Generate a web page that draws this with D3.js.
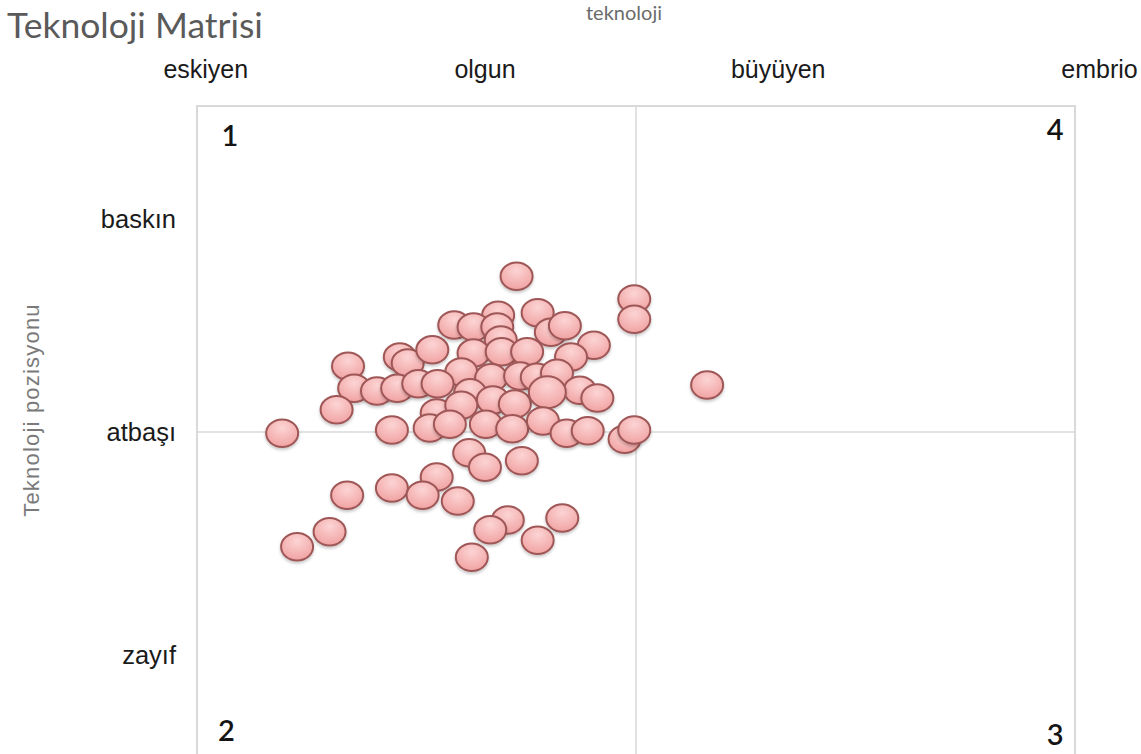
<!DOCTYPE html>
<html>
<head>
<meta charset="utf-8">
<script src="https://cdn.jsdelivr.net/npm/d3@7"></script>
<style>
  body { margin: 0; background: #fff; }
  svg { display: block; }
</style>
</head>
<body>
<svg id="chart" width="1141" height="754"></svg>
<script>
// axis categories
var xCategories = ["eskiyen", "olgun", "büyüyen", "embrio"];
var xCategoryPos = [1, 32.8, 66.2, 102.8];
var yCategories = ["baskın", "atbaşı", "zayıf"];
var yCategoryPos = [82.7, 50, 15.8];
var quadrants = ["1", "4", "2", "3"];

// technologies (x: maturity, y: position)
var techX = [36.4, 49.8, 49.8, 34.3, 38.8, 29.3, 31.5, 34.2, 34.6, 40.3,
             41.9, 45.2, 23.1, 24.0, 26.8, 17.2, 31.5, 34.7, 37.6, 42.6,
             30.1, 33.5, 36.8, 38.7, 41.0, 43.6, 45.6, 17.9, 20.5, 22.8,
             25.2, 27.4, 15.9, 27.3, 31.1, 33.7, 36.2, 30.1, 39.9, 9.7,
             22.2, 26.5, 28.8, 32.9, 35.9, 39.4, 42.1, 44.5, 48.7, 49.8,
             31.0, 32.8, 37.0, 27.3, 17.1, 22.2, 25.7, 29.7, 35.4, 33.4,
             41.6, 38.8, 15.1, 11.4, 31.3, 58.1];
var techY = [73.9, 70.4, 67.3, 67.9, 68.3, 66.4, 66.1, 66.1, 64.1, 65.3,
             66.3, 63.3, 61.5, 60.6, 62.6, 60.1, 62.1, 62.3, 62.3, 61.5,
             59.2, 58.3, 58.6, 58.4, 59.0, 56.4, 55.2, 56.7, 56.3, 56.7,
             57.4, 57.4, 53.4, 52.9, 56.0, 54.9, 54.3, 54.1, 56.1, 49.8,
             50.3, 50.6, 51.2, 51.2, 50.5, 51.7, 49.8, 50.2, 48.9, 50.3,
             46.8, 44.6, 45.6, 43.1, 40.3, 41.4, 40.3, 39.4, 36.5, 35.0,
             36.8, 33.4, 34.7, 32.4, 30.8, 57.2];
var techSize = [1, 1, 1, 1, 1, 1, 1, 1, 1, 1,
                1, 1, 1, 1, 1, 1, 1, 1, 1, 1,
                1, 1, 1, 1, 1, 1, 1, 1, 1, 1,
                1, 1, 1, 1, 1, 1, 1, 1, 1.2, 1,
                1, 1, 1, 1, 1, 1, 1, 1, 1, 1,
                1, 1, 1, 1, 1, 1, 1, 1, 1, 1,
                1, 1, 1, 1, 1, 1];

var svg = d3.select("#chart");

var plotLeft = 197, plotRight = 1075, plotTop = 106, plotBottom = 758;

var x = d3.scaleLinear().domain([0, 100]).range([plotLeft, plotRight]);
var y = d3.scaleLinear().domain([0, 100]).range([plotBottom, plotTop]);
var rx = d3.scaleLinear().domain([1, 1.2]).range([16, 18.5]);

var defs = svg.append("defs");
var grad = defs.append("radialGradient")
    .attr("id", "bubble")
    .attr("cx", "50%").attr("cy", "30%").attr("r", "70%");
grad.append("stop").attr("offset", "0%").attr("stop-color", "#fcd4d4");
grad.append("stop").attr("offset", "100%").attr("stop-color", "#f1a2a2");

var shadow = defs.append("filter").attr("id", "shadow")
    .attr("x", "-30%").attr("y", "-30%").attr("width", "160%").attr("height", "170%");
shadow.append("feDropShadow")
    .attr("dx", 0).attr("dy", 2).attr("stdDeviation", 1.6)
    .attr("flood-color", "#000").attr("flood-opacity", 0.22);

// title
svg.append("text")
    .attr("x", 7).attr("y", 38)
    .style("font-family", "Lato, 'Open Sans', sans-serif")
    .style("font-size", "35.5px")
    .style("fill", "#5a5a5a")
    .text("Teknoloji Matrisi");

svg.append("text")
    .attr("x", 624).attr("y", 20)
    .attr("text-anchor", "middle")
    .style("font-family", "Lato, 'Open Sans', sans-serif")
    .style("font-size", "20px")
    .style("fill", "#6b6b6b")
    .text("teknoloji");

svg.append("text")
    .attr("transform", "translate(39," + ((plotTop + plotBottom) / 2 - 22) + ") rotate(-90)")
    .attr("text-anchor", "middle")
    .style("font-family", "'Liberation Sans', Arial, sans-serif")
    .style("font-size", "22px")
    .style("letter-spacing", "1.2px")
    .style("fill", "#7a7a7a")
    .text("Teknoloji pozisyonu");

// frame and quadrant lines
var grid = svg.append("g").attr("stroke", "#d9d9d9").attr("fill", "none");
grid.append("rect")
    .attr("x", x(0)).attr("y", y(100))
    .attr("width", x(100) - x(0)).attr("height", y(0) - y(100))
    .attr("stroke-width", 2);
grid.append("line")
    .attr("x1", x(50)).attr("x2", x(50))
    .attr("y1", y(100)).attr("y2", y(0))
    .attr("stroke-width", 1.5);
grid.append("line")
    .attr("x1", x(0)).attr("x2", x(100))
    .attr("y1", y(50)).attr("y2", y(50))
    .attr("stroke-width", 1.5);

// category labels
svg.append("g").selectAll("text")
    .data(xCategories)
    .enter().append("text")
    .attr("x", function(d, i) { return x(xCategoryPos[i]); })
    .attr("y", 78)
    .attr("text-anchor", "middle")
    .style("font-family", "'Liberation Sans', Arial, sans-serif")
    .style("font-size", "25px")
    .style("fill", "#1a1a1a")
    .text(function(d) { return d; });

svg.append("g").selectAll("text")
    .data(yCategories)
    .enter().append("text")
    .attr("x", 176)
    .attr("y", function(d, i) { return y(yCategoryPos[i]); })
    .attr("dy", "0.35em")
    .attr("text-anchor", "end")
    .style("font-family", "'Liberation Sans', Arial, sans-serif")
    .style("font-size", "25.5px")
    .style("fill", "#1a1a1a")
    .text(function(d) { return d; });

// quadrant numbers
var qpos = [[2.8, 93.8, "start"], [98.7, 94.8, "end"], [2.4, 2.6, "start"], [98.7, 2.0, "end"]];
svg.append("g").selectAll("text")
    .data(quadrants)
    .enter().append("text")
    .attr("x", function(d, i) { return x(qpos[i][0]); })
    .attr("y", function(d, i) { return y(qpos[i][1]); })
    .attr("text-anchor", function(d, i) { return qpos[i][2]; })
    .style("font-family", "Lato, 'Open Sans', sans-serif")
    .style("font-size", "29px")
    .style("font-weight", "600")
    .style("fill", "#141414")
    .text(function(d) { return d; });

// bubbles
var points = techX.map(function(d, i) { return {x: d, y: techY[i], s: techSize[i]}; });

svg.append("g").selectAll("ellipse")
    .data(points)
    .enter().append("ellipse")
    .attr("cx", function(d) { return x(d.x); })
    .attr("cy", function(d) { return y(d.y); })
    .attr("rx", function(d) { return rx(d.s); })
    .attr("ry", function(d) { return rx(d.s) * 0.86; })
    .attr("fill", "url(#bubble)")
    .attr("stroke", "#9f5757")
    .attr("stroke-width", 2)
    .attr("filter", "url(#shadow)");
</script>
</body>
</html>
